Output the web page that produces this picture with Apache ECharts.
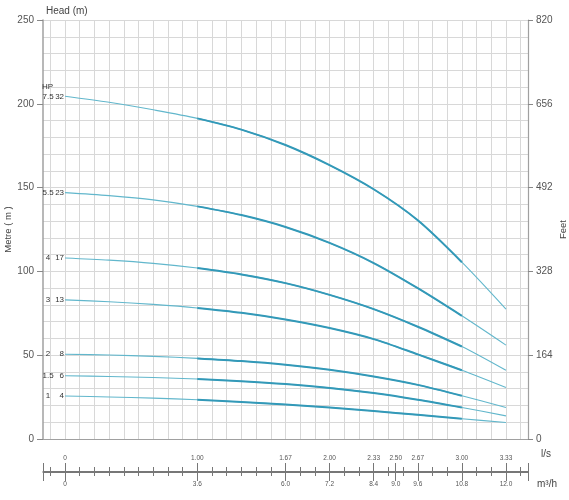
<!DOCTYPE html>
<html>
<head>
<meta charset="utf-8">
<script src="https://cdn.jsdelivr.net/npm/echarts@6/dist/echarts.min.js"></script>
<style>
  html, body { margin: 0; padding: 0; background: #fff; }
  #chart { width: 569px; height: 500px; }
</style>
</head>
<body>
<div id="chart"></div>
<script>
// flow in m3/h (bottom scale), heads in metres
const flow = [0, 1.2, 2.4, 3.6, 4.8, 6.0, 7.2, 8.4, 9.6, 10.8, 12.0];
const head75 = [204.5, 200.9, 196.4, 191.3, 184.6, 175.4, 163.4, 149, 130.5, 105.5, 77.5];
const head55 = [147, 145.2, 142.7, 138.8, 133.6, 126.5, 117, 105, 90, 73.5, 56];
const head40 = [108, 106.7, 104.8, 102, 98.2, 93, 86, 77.5, 67, 55.2, 41];
const head30 = [83, 81.9, 80.3, 78.2, 75.3, 71.3, 66.2, 59.6, 50.5, 41, 30.7];
const head20 = [50.6, 50.1, 49.3, 48.1, 46.5, 44.3, 41.3, 37.3, 32.3, 25.8, 18.8];
const head15 = [37.7, 37.3, 36.7, 35.8, 34.5, 32.8, 30.5, 27.4, 23.4, 18.8, 13.8];
const head10 = [25.7, 25.1, 24.4, 23.4, 22.1, 20.6, 18.8, 16.7, 14.4, 12.1, 9.8];

const curveHp = ['7.5', '5.5', '4', '3', '2', '1.5', '1'];
const curveStages = ['32', '23', '17', '13', '8', '6', '4'];
const curveHeads = [head75, head55, head40, head30, head20, head15, head10];

// bottom double scale
const scaleM3h = [0, 3.6, 6.0, 7.2, 8.4, 9.0, 9.6, 10.8, 12.0];
const scaleM3hText = ['0', '3.6', '6.0', '7.2', '8.4', '9.0', '9.6', '10.8', '12.0'];
const scaleLsText = ['0', '1.00', '1.67', '2.00', '2.33', '2.50', '2.67', '3.00', '3.33'];

// recommended (thick) range of every curve, m3/h
const thickFrom = 3.6;
const thickTo = 10.8;

const xMin = -0.6;
const xMax = 12.6;

// grid columns every 0.4 m3/h
const gridX = [];
for (let i = -1; i <= 31; i++) gridX.push(+(i * 0.4).toFixed(1));
const majorTicks = [xMin].concat(scaleM3h, [xMax]);

function pick(list, v) {
  for (let i = 0; i < scaleM3h.length; i++) {
    if (Math.abs(scaleM3h[i] - v) < 1e-6) return list[i];
  }
  return '';
}

const FONT = 'Liberation Sans, Arial, sans-serif';
const thinColor = '#62b7cc';
const thickColor = '#3399b8';

const series = [];
curveHeads.forEach((heads, k) => {
  const data = flow.map((f, i) => [f, heads[i]]);
  const text = k === 0
    ? '{hp|HP}\n{h|' + curveHp[k] + '}{s|' + curveStages[k] + '}'
    : '{h|' + curveHp[k] + '}{s|' + curveStages[k] + '}';
  data[0] = {
    value: data[0],
    label: {
      show: true,
      position: 'left',
      distance: 1,
      offset: k === 0 ? [0, -4] : [0, 0],
      formatter: text,
      rich: {
        hp: { fontSize: 8, color: '#333', fontFamily: FONT, align: 'left', lineHeight: 10 },
        h: { fontSize: 8, color: '#333', fontFamily: FONT, width: 12, align: 'center', lineHeight: 10 },
        s: { fontSize: 8, color: '#333', fontFamily: FONT, width: 10, align: 'right', lineHeight: 10 }
      }
    }
  };
  series.push({
    type: 'line',
    xAxisIndex: 0,
    yAxisIndex: 0,
    data: data,
    smooth: 0.3,
    symbol: 'circle',
    symbolSize: 0,
    showSymbol: true,
    silent: true,
    z: 3,
    lineStyle: { color: thinColor, width: 1.1 },
    itemStyle: { color: thinColor }
  });
  const thick = [];
  flow.forEach((f, i) => {
    if (f >= thickFrom - 1e-6 && f <= thickTo + 1e-6) thick.push([f, heads[i]]);
  });
  series.push({
    type: 'line',
    xAxisIndex: 0,
    yAxisIndex: 0,
    data: thick,
    smooth: 0.3,
    symbol: 'none',
    silent: true,
    z: 4,
    lineStyle: { color: thickColor, width: 2 }
  });
});

// empty series to hold the extra scale axes
series.push({ type: 'line', xAxisIndex: 1, yAxisIndex: 3, data: [], symbol: 'none' });
series.push({ type: 'line', xAxisIndex: 2, yAxisIndex: 3, data: [], symbol: 'none' });
series.push({ type: 'line', xAxisIndex: 3, yAxisIndex: 4, data: [], symbol: 'none' });

const option = {
  animation: false,
  backgroundColor: '#fff',
  textStyle: { fontFamily: FONT },
  title: {
    text: 'Head (m)',
    left: 41,
    top: 1,
    textStyle: { fontSize: 10, fontWeight: 'normal', color: '#444', fontFamily: FONT }
  },
  grid: [
    { left: 43, right: 41, top: 20, bottom: 61, outerBoundsMode: 'none' },
    { left: 43, right: 41, top: 471, height: 1, outerBoundsMode: 'none' },
    { left: 43, right: 41, top: 463, height: 18, outerBoundsMode: 'none' }
  ],
  xAxis: [
    {
      gridIndex: 0,
      type: 'value',
      min: xMin,
      max: xMax,
      axisLine: { show: true, onZero: false, lineStyle: { color: '#a0a0a0', width: 1.2 } },
      axisTick: { show: false, customValues: gridX },
      axisLabel: { show: false, customValues: gridX },
      splitLine: { show: true, lineStyle: { color: '#d8d8d8', width: 1 } }
    },
    {
      gridIndex: 1,
      type: 'value',
      position: 'top',
      min: xMin,
      max: xMax,
      axisLine: { show: true, onZero: false, lineStyle: { color: '#777', width: 1 } },
      axisTick: { show: true, customValues: gridX, length: 4, lineStyle: { color: '#777' } },
      axisLabel: {
        customValues: scaleM3h,
        formatter: (v) => pick(scaleLsText, v),
        fontSize: 6.5,
        color: '#555',
        margin: 9
      },
      splitLine: { show: false }
    },
    {
      gridIndex: 1,
      type: 'value',
      position: 'bottom',
      min: xMin,
      max: xMax,
      axisLine: { show: true, onZero: false, lineStyle: { color: '#777', width: 1 } },
      axisTick: { show: true, customValues: gridX, length: 4, lineStyle: { color: '#777' } },
      axisLabel: {
        customValues: scaleM3h,
        formatter: (v) => pick(scaleM3hText, v),
        fontSize: 6.5,
        color: '#555',
        margin: 9
      },
      splitLine: { show: false }
    },
    {
      gridIndex: 2,
      type: 'value',
      position: 'bottom',
      min: xMin,
      max: xMax,
      axisLine: { show: false, onZero: false },
      axisTick: { show: true, inside: true, customValues: majorTicks, length: 18, lineStyle: { color: '#777' } },
      axisLabel: { show: false },
      splitLine: { show: false }
    }
  ],
  yAxis: [
    {
      gridIndex: 0,
      type: 'value',
      position: 'left',
      min: 0,
      max: 250,
      interval: 10,
      axisLine: { show: true, onZero: false, lineStyle: { color: '#a0a0a0', width: 1.5 } },
      axisTick: { show: false },
      axisLabel: { show: false },
      splitLine: { show: true, lineStyle: { color: '#d8d8d8', width: 1 } }
    },
    {
      gridIndex: 0,
      type: 'value',
      position: 'left',
      min: 0,
      max: 250,
      interval: 50,
      name: 'Metre ( m )',
      nameLocation: 'middle',
      nameGap: 30,
      nameRotate: 90,
      nameMoveOverlap: false,
      nameTextStyle: { fontSize: 9.5, color: '#444', fontFamily: FONT },
      axisLine: { show: false, onZero: false },
      axisTick: { show: true, length: 6, lineStyle: { color: '#888' } },
      axisLabel: { fontSize: 10, color: '#555', margin: 9 },
      splitLine: { show: false }
    },
    {
      gridIndex: 0,
      type: 'value',
      position: 'right',
      min: 0,
      max: 820,
      interval: 164,
      name: 'Feet',
      nameLocation: 'middle',
      nameGap: 30,
      nameRotate: 90,
      nameMoveOverlap: false,
      nameTextStyle: { fontSize: 9.5, color: '#444', fontFamily: FONT },
      axisLine: { show: true, onZero: false, lineStyle: { color: '#a0a0a0', width: 1.2 } },
      axisTick: { show: true, length: 5, lineStyle: { color: '#888' } },
      axisLabel: { fontSize: 10, color: '#555', margin: 8 },
      splitLine: { show: false }
    },
    { gridIndex: 1, type: 'value', min: 0, max: 1, show: false },
    { gridIndex: 2, type: 'value', min: 0, max: 1, show: false }
  ],
  graphic: [
    { type: 'text', left: 541, top: 449, style: { text: 'l/s', fontSize: 10, fill: '#444', fontFamily: FONT } },
    { type: 'text', left: 537, top: 479, style: { text: 'm³/h', fontSize: 10, fill: '#444', fontFamily: FONT } }
  ],
  series: series
};

const chart = echarts.init(document.getElementById('chart'));
chart.setOption(option);
</script>
</body>
</html>
